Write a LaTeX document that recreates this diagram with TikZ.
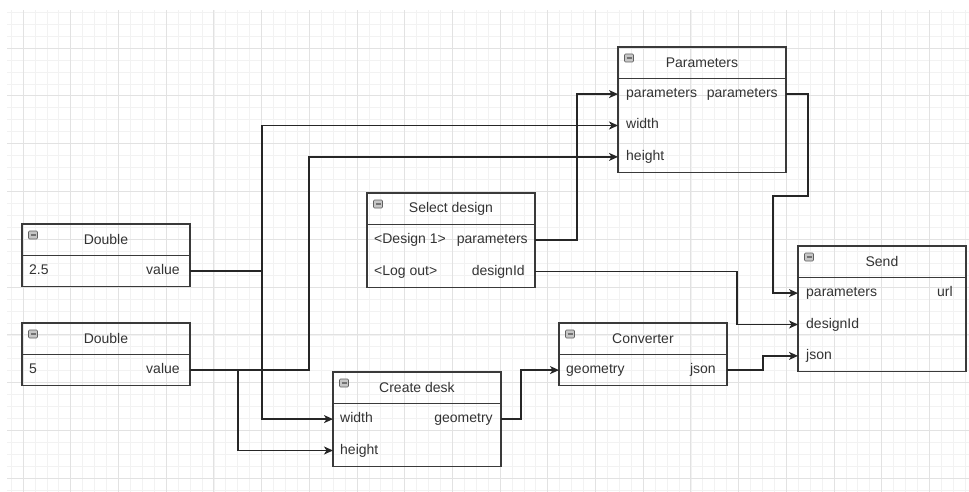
\documentclass[tikz,border=0pt]{standalone}
\usepackage{fontspec}
\setmainfont{Liberation Sans}
\usetikzlibrary{arrows.meta,calc}
\definecolor{ink}{HTML}{333333}
\definecolor{edge}{HTML}{3A3A3A}
\definecolor{gmaj}{HTML}{E2E2E2}
\definecolor{gmin}{HTML}{F2F2F2}

% Draws the outer frame of a block, the line under its header and the collapse icon
\newcommand{\blockframe}[2]{%
  \draw[frame] (#1.north west) rectangle (#2.south east);
  \draw[frame] (#1.south west) -- (#1.south east);
  \node[icon] (#1-icon) at ($(#1.north west)+(11,11)$) {};
}

\begin{document}
\begin{tikzpicture}[x=1pt,y=-1pt,
  font=\fontsize{14}{16}\selectfont,
  frame/.style={draw=edge, line width=1.3pt},
  hdr/.style={minimum width=167.5pt, minimum height=31pt, inner sep=0, text=ink, anchor=north west},
  row/.style={minimum width=167.5pt, minimum height=31pt, inner sep=0, anchor=north west},
  lbl/.style={text=ink, inner sep=0, text height=10pt, text depth=3pt},
  icon/.style={draw=gray!75!black, fill=gray!45, rounded corners=1pt,
    minimum width=9pt, minimum height=8pt, inner sep=0, line width=0.6pt,
    path picture={\draw[line width=1.2pt, black!55]
      ([xshift=-2.5pt]path picture bounding box.center) --
      ([xshift=2.5pt]path picture bounding box.center);}},
  wire/.style={draw=black!85, line width=1.3pt},
  link/.style={wire, -{Stealth[length=9pt,width=8pt,inset=2.5pt]}},
  gminor/.style={draw=gmin, line width=0.6pt},
  gmajor/.style={draw=gmaj, line width=0.8pt}]

\useasboundingbox (0,0) rectangle (969,492);
\fill[white] (0,0) rectangle (969,492);

% background grid
\begin{scope}
  \clip (7,11) rectangle (969,492);
  \foreach \i in {-2,...,82} \draw[gminor] ({23+\i*11.925},0) -- ++(0,500);
  \foreach \i in {-5,...,40} \draw[gminor] (0,{48+\i*11.95}) -- ++(980,0);
  \foreach \i in {-1,...,20} \draw[gmajor] ({23+\i*47.7},0) -- ++(0,500);
  \foreach \i in {-1,...,10} \draw[gmajor] (0,{48+\i*47.8}) -- ++(980,0);
\end{scope}

% Double (2.5)
\node[hdr] (d1) at (22,224) {Double};
\node[row] (d1v) at (d1.south west) {};
\node[lbl, anchor=west] (d1v-in) at ([xshift=7pt]d1v.west) {2.5};
\node[lbl, anchor=east] (d1v-out) at ([xshift=-10pt]d1v.east) {value};
\blockframe{d1}{d1v}

% Double (5)
\node[hdr] (d2) at (22,323) {Double};
\node[row] (d2v) at (d2.south west) {};
\node[lbl, anchor=west] (d2v-in) at ([xshift=7pt]d2v.west) {5};
\node[lbl, anchor=east] (d2v-out) at ([xshift=-10pt]d2v.east) {value};
\blockframe{d2}{d2v}

% Parameters
\node[hdr] (par) at (618,47) {Parameters};
\node[row] (parp) at (par.south west) {};
\node[row] (parw) at (parp.south west) {};
\node[row] (parh) at (parw.south west) {};
\node[lbl, anchor=west] (parp-in) at ([xshift=8pt]parp.west) {parameters};
\node[lbl, anchor=east] (parp-out) at ([xshift=-8pt]parp.east) {parameters};
\node[lbl, anchor=west] (parw-in) at ([xshift=8pt]parw.west) {width};
\node[lbl, anchor=west] (parh-in) at ([xshift=8pt]parh.west) {height};
\blockframe{par}{parh}

% Select design
\node[hdr] (sd) at (367,193) {Select design};
\node[row] (sdp) at (sd.south west) {};
\node[row] (sdd) at (sdp.south west) {};
\node[lbl, anchor=west] (sdp-in) at ([xshift=7pt]sdp.west) {<Design 1>};
\node[lbl, anchor=east] (sdp-out) at ([xshift=-7pt]sdp.east) {parameters};
\node[lbl, anchor=west] (sdd-in) at ([xshift=7pt]sdd.west) {<Log out>};
\node[lbl, anchor=east] (sdd-out) at ([xshift=-10pt]sdd.east) {designId};
\blockframe{sd}{sdd}

% Send
\node[hdr] (snd) at (798,246) {Send};
\node[row] (sndp) at (snd.south west) {};
\node[row] (sndd) at (sndp.south west) {};
\node[row] (sndj) at (sndd.south west) {};
\node[lbl, anchor=west] (sndp-in) at ([xshift=8pt]sndp.west) {parameters};
\node[lbl, anchor=east] (sndp-out) at ([xshift=-13pt]sndp.east) {url};
\node[lbl, anchor=west] (sndd-in) at ([xshift=8pt]sndd.west) {designId};
\node[lbl, anchor=west] (sndj-in) at ([xshift=8pt]sndj.west) {json};
\blockframe{snd}{sndj}

% Converter
\node[hdr] (cv) at (559,323) {Converter};
\node[row] (cvg) at (cv.south west) {};
\node[lbl, anchor=west] (cvg-in) at ([xshift=7pt]cvg.west) {geometry};
\node[lbl, anchor=east] (cvg-out) at ([xshift=-11pt]cvg.east) {json};
\blockframe{cv}{cvg}

% Create desk
\node[hdr] (cd) at (333,372) {Create desk};
\node[row] (cdw) at (cd.south west) {};
\node[row] (cdh) at (cdw.south west) {};
\node[lbl, anchor=west] (cdw-in) at ([xshift=7pt]cdw.west) {width};
\node[lbl, anchor=east] (cdw-out) at ([xshift=-8pt]cdw.east) {geometry};
\node[lbl, anchor=west] (cdh-in) at ([xshift=7pt]cdh.west) {height};
\blockframe{cd}{cdh}

% connectors
\draw[link] (d1v.east) -- ++(72,0) |- (parw.west);
\draw[link] (d1v.east) -- ++(72,0) |- (cdw.west);
\draw[link] (d2v.east) -- ++(119,0) |- (parh.west);
\draw[link] (d2v.east) -- ++(48,0) |- (cdh.west);
\draw[link] (sdp.east) -- ++(42,0) |- (parp.west);
\draw[link] (sdd.east) -- ++(202,0) |- (sndd.west);
\draw[link] (parp.east) -- ++(22,0) -- ++(0,102) -- ++(-35,0) |- (sndp.west);
\draw[link] (cvg.east) -- ++(36,0) |- (sndj.west);
\draw[link] (cdw.east) -- ++(20,0) |- (cvg.west);

\end{tikzpicture}
\end{document}
